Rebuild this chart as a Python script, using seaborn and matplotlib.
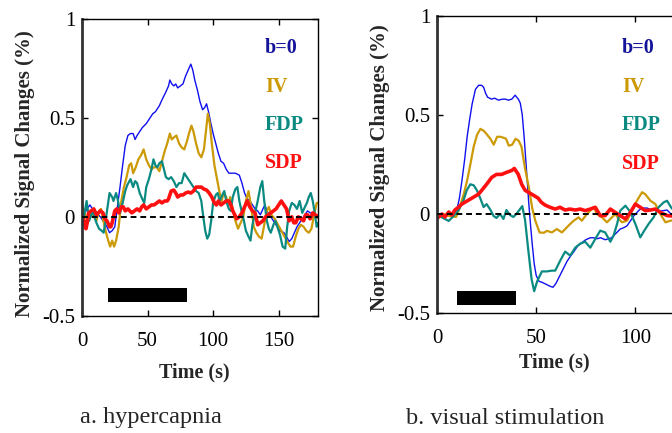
import matplotlib
matplotlib.use("Agg")
import matplotlib.pyplot as plt
import seaborn as sns

sns.set_style("ticks")
plt.rcParams["font.family"] = ["Liberation Serif", "DejaVu Serif"]

# ---------------- data: (a) hypercapnia ----------------
blue_a_t = [0, 3, 6, 8, 11, 14, 16, 19, 21, 23, 25, 27, 29, 31, 33, 35, 37, 39, 40.5, 42,
            44, 46, 49, 51, 54, 56, 59, 61, 64, 66, 67, 68.5, 70, 71.5, 73, 75, 77, 79, 81, 83,
            84.5, 86, 88, 90, 92, 93.5, 95, 96.5, 98, 100, 102, 104, 106, 108, 110, 112, 115,
            117, 120, 122, 124, 126, 128, 130, 132, 134, 136, 138, 139.5, 141, 143, 145, 148,
            151, 154, 156, 158, 160, 162, 164, 166, 168, 170, 172, 174, 176, 178, 180]
blue_a_v = [0.0, 0.03, 0.06, 0.04, 0.02, 0.0, -0.02, -0.05, -0.08, -0.07, -0.05, 0.05, 0.15,
            0.26, 0.36, 0.41, 0.42, 0.42, 0.39, 0.41, 0.43, 0.45, 0.47, 0.49, 0.52, 0.53, 0.56,
            0.59, 0.63, 0.66, 0.69, 0.67, 0.66, 0.67, 0.65, 0.66, 0.67, 0.71, 0.74, 0.77, 0.74,
            0.69, 0.64, 0.58, 0.54, 0.55, 0.57, 0.53, 0.48, 0.42, 0.37, 0.32, 0.28, 0.27, 0.24,
            0.22, 0.22, 0.22, 0.21, 0.17, 0.12, 0.09, 0.08, 0.06, 0.04, 0.03, 0.01, 0.04, 0.06,
            0.03, 0.01, -0.01, -0.04, -0.07, -0.08, -0.10, -0.125, -0.11, -0.08, -0.05, -0.03,
            -0.01, 0.01, 0.03, 0.02, 0.02, 0.01, 0.0]

gold_a_t = [0, 2, 4, 7, 9, 11, 13, 14.5, 16, 18, 20, 21.5, 23, 24.5, 26, 28, 30, 32, 34, 36,
            37.5, 39, 41, 43, 45, 47, 49, 51, 53, 55, 57, 59, 61, 63, 65, 67, 68.5, 70, 72, 74,
            76, 78, 80, 82, 83.5, 85, 87, 89, 91, 93, 94.5, 96, 97.5, 99, 101, 103, 105, 106.5,
            108, 110, 111.5, 113, 115, 117, 119, 121, 123, 125, 127, 129, 131, 133, 135, 137,
            139, 141, 142.5, 144.5, 147, 149.5, 152, 154.5, 157, 159, 161, 163, 165, 167, 169,
            171, 173, 175, 177, 179, 180]
gold_a_v = [0.06, 0.02, -0.02, 0.02, 0.0, -0.02, 0.03, 0.04, -0.01, -0.07, -0.12, -0.15,
            -0.12, -0.15, -0.12, -0.05, 0.08, 0.15, 0.20, 0.26, 0.27, 0.22, 0.25, 0.29, 0.31,
            0.34, 0.29, 0.26, 0.24, 0.25, 0.25, 0.23, 0.28, 0.33, 0.37, 0.42, 0.39, 0.40, 0.41,
            0.37, 0.35, 0.34, 0.38, 0.43, 0.46, 0.43, 0.37, 0.32, 0.30, 0.34, 0.43, 0.52, 0.47,
            0.37, 0.26, 0.19, 0.12, 0.08, 0.12, 0.10, 0.06, 0.10, 0.04, -0.02, -0.06, -0.03,
            0.0, 0.08, 0.13, 0.05, -0.05, -0.08, -0.10, -0.11, -0.04, 0.03, 0.05, 0.01, -0.01,
            -0.04, -0.07, -0.10, -0.13, -0.15, -0.15, -0.10, -0.06, -0.04, -0.05, -0.07, -0.08,
            -0.06, 0.01, 0.07, 0.07]

teal_a_t = [0, 2, 3.5, 5.5, 8, 11, 13, 15, 16.5, 18, 19.5, 21, 23, 24, 26, 27.5, 29, 31, 33,
            34.5, 37, 39, 40.5, 42, 44, 46, 47.5, 49, 51, 53, 54.5, 56, 57.5, 59, 61, 62.5, 64,
            66, 68, 70, 72, 74, 76, 78, 80, 82, 85, 87, 89, 91, 92.5, 94, 95.5, 97, 98.5, 100,
            102, 103.5, 105, 107, 108.5, 110, 112, 113.5, 115, 117, 118.5, 120, 122, 123.5, 125,
            127, 128.5, 130, 132, 134, 136, 137.5, 139, 141, 142.5, 144, 146, 147.5, 149, 151,
            153, 155, 156.5, 158, 160, 162, 164, 166, 168, 170, 171.5, 173, 174.5, 176, 177.5,
            179, 180]
teal_a_v = [-0.05, 0.02, 0.08, -0.02, 0.03, -0.03, -0.06, -0.07, -0.08, -0.02, 0.05, 0.12,
            0.10, 0.08, 0.12, 0.08, 0.02, 0.07, 0.13, 0.16, 0.19, 0.15, 0.18, 0.17, 0.12, 0.09,
            0.07, 0.15, 0.19, 0.24, 0.29, 0.26, 0.25, 0.27, 0.28, 0.24, 0.20, 0.19, 0.20, 0.18,
            0.15, 0.17, 0.17, 0.22, 0.20, 0.18, 0.15, 0.13, 0.12, 0.08, 0.0, -0.07, -0.11, -0.09,
            -0.02, 0.07, 0.11, 0.12, 0.08, 0.11, 0.13, 0.08, 0.04, 0.03, 0.10, 0.14, 0.15, 0.08,
            0.02, -0.02, -0.07, -0.10, -0.12, -0.04, 0.02, 0.08, 0.15, 0.18, 0.08, -0.02, -0.06,
            -0.08, -0.04, -0.02, -0.05, -0.09, -0.15, -0.16, -0.05, 0.03, 0.07, 0.06, 0.04, 0.08,
            0.02, 0.05, 0.07, 0.10, 0.12, 0.08, 0.02, -0.05, -0.03]

red_a_t = [0, 1.5, 3, 4, 5, 7, 9, 11, 12.5, 14, 16, 17.5, 19, 21, 22, 23, 25, 26.5, 28, 30,
           31.5, 33, 35, 36.5, 38, 40, 42, 44, 45.5, 47, 49, 51, 53, 55, 57, 59, 61, 63, 65, 66,
           68, 70, 71.5, 73, 75, 77, 79, 81, 83, 85, 87, 89, 91, 93, 95, 97, 99, 101, 102.5, 104,
           106, 108, 110, 112, 113.5, 115, 116.5, 118, 120, 122, 124, 126, 128, 130, 132, 134,
           136, 138, 140, 142, 144, 146, 148, 150, 152, 154, 156, 158, 160, 161.5, 163, 165,
           167, 169, 170.5, 172, 174, 176, 178, 180]
red_a_v = [0.0, -0.02, -0.06, -0.03, 0.02, 0.03, 0.04, 0.01, 0.02, 0.03, 0.02, -0.01, -0.02,
           -0.05, -0.05, -0.03, 0.03, 0.04, 0.02, 0.05, 0.05, 0.03, 0.04, 0.03, 0.02, 0.03, 0.04,
           0.03, 0.05, 0.06, 0.04, 0.05, 0.06, 0.06, 0.07, 0.08, 0.07, 0.08, 0.08, 0.09, 0.13,
           0.135, 0.12, 0.10, 0.11, 0.11, 0.12, 0.125, 0.12, 0.13, 0.15, 0.15, 0.15, 0.14, 0.135,
           0.12, 0.10, 0.07, 0.06, 0.08, 0.06, 0.07, 0.08, 0.08, 0.06, 0.03, 0.01, -0.01, 0.0,
           0.02, 0.05, 0.08, 0.05, 0.03, 0.02, -0.04, -0.03, -0.02, 0.0, 0.01, 0.02, 0.03, 0.04,
           0.06, 0.08, 0.06, 0.04, -0.02, 0.0, -0.03, -0.03, 0.0, -0.01, -0.02, 0.01, 0.01,
           -0.01, 0.02, 0.01, 0.0]

block_a = [20, 80]

# ---------------- data: (b) visual stimulation ----------------
blue_b_t = [0, 2, 4.5, 7, 10, 11.3, 12.6, 14, 15.2, 16.5, 17.7, 19.4, 21, 22.5, 23.5, 24.5,
            25.5, 27.5, 29, 31, 33, 34.5, 36, 37.7, 39.4, 41, 42, 43, 44, 45, 46.3, 47.2, 48,
            49, 50, 51.4, 53, 55, 57, 58.5, 60, 61.5, 63.5, 65.5, 67.5, 69, 71, 73, 75, 77.3,
            79, 80.6, 82.5, 84.8, 86.5, 88, 90, 92.4, 94, 95.8, 97.5, 99.2, 101, 102.5, 104,
            106, 108, 111, 113, 116, 118, 120]
blue_b_v = [0.0, -0.01, -0.01, 0.0, 0.02, 0.08, 0.17, 0.28, 0.39, 0.48, 0.555, 0.63, 0.65,
            0.65, 0.64, 0.61, 0.59, 0.58, 0.585, 0.575, 0.58, 0.58, 0.575, 0.58, 0.60, 0.58,
            0.56, 0.50, 0.38, 0.24, 0.05, -0.06, -0.15, -0.25, -0.31, -0.34, -0.345, -0.355,
            -0.365, -0.37, -0.35, -0.32, -0.28, -0.24, -0.21, -0.19, -0.16, -0.145, -0.13, -0.12,
            -0.12, -0.125, -0.12, -0.13, -0.125, -0.12, -0.10, -0.076, -0.07, -0.06, -0.035,
            -0.01, 0.01, 0.025, 0.03, 0.03, 0.02, 0.02, 0.015, 0.02, 0.0, -0.01]

gold_b_t = [0, 3, 6, 9.6, 11, 13.5, 15.2, 16.8, 18.5, 20.2, 21.9, 23.6, 25.3, 26.9, 28.6, 30.3,
            32, 33.6, 34.8, 36.2, 37.9, 39.6, 41.2, 42.6, 44.3, 46.3, 48, 49.6, 51.7, 53.9, 55.4,
            57.9, 60.4, 63, 65.5, 67.2, 68.9, 71.4, 73, 75.6, 77.3, 79, 80.6, 83.2, 85.7, 87.4,
            89.9, 91.6, 93.3, 95.8, 98.3, 100.8, 103.4, 105, 107.6, 110.1, 112.6, 115.2, 117.7,
            120]
gold_b_v = [-0.02, 0.0, -0.01, -0.015, 0.02, 0.10, 0.17, 0.25, 0.34, 0.40, 0.43, 0.42, 0.40,
            0.38, 0.35, 0.39, 0.39, 0.385, 0.38, 0.345, 0.35, 0.38, 0.37, 0.34, 0.235, 0.135,
            0.03, -0.035, -0.093, -0.095, -0.085, -0.093, -0.076, -0.093, -0.067, -0.05, -0.034,
            -0.017, -0.034, 0.0, 0.017, 0.034, 0.0, -0.017, -0.042, -0.025, 0.0, -0.025, -0.042,
            -0.034, 0.017, 0.067, 0.11, 0.10, 0.067, 0.05, 0.0, -0.042, -0.034, -0.03]

teal_b_t = [0, 3, 5.9, 8.4, 10.9, 13.4, 15, 16.8, 18.5, 20.1, 21.8, 23.5, 25, 27, 28.5, 30,
            31.8, 33.5, 35, 36.8, 38.5, 40, 41.9, 43, 44.4, 46, 47.7, 49, 50.5, 52.9, 55.4, 57.9,
            59.6, 62.1, 64.6, 67.2, 69.7, 72.2, 74.7, 77.3, 79.8, 82.3, 84.8, 87.4, 89, 90.8,
            92.4, 95, 97.5, 100, 102.5, 104.5, 106.7, 109.2, 111.7, 114.3, 116, 118, 120]
teal_b_v = [0.0, -0.02, -0.035, -0.01, 0.02, 0.07, 0.12, 0.15, 0.145, 0.12, 0.08, 0.035, 0.05,
            0.02, -0.01, -0.02, 0.0, -0.025, 0.02, -0.005, -0.015, 0.0, 0.025, 0.04, -0.03,
            -0.18, -0.33, -0.39, -0.34, -0.29, -0.29, -0.286, -0.286, -0.236, -0.19, -0.21,
            -0.17, -0.15, -0.14, -0.17, -0.126, -0.084, -0.093, -0.14, -0.11, -0.05, 0.017,
            0.042, 0.01, -0.05, -0.118, -0.084, -0.05, -0.017, 0.034, 0.059, 0.067, 0.034, 0.01]

red_b_t = [0, 1, 2.5, 4, 5.9, 7.5, 9, 10.9, 12.5, 14.2, 15.9, 18.4, 20.9, 22.6, 25, 27.6, 30,
           32.6, 35, 37.7, 39, 41, 42.7, 44.4, 46, 48.6, 51, 52.5, 54.5, 57, 59.6, 62, 64.6, 67,
           69.7, 72.2, 74.7, 77.3, 79.8, 82.3, 84.8, 87.4, 89.9, 92.4, 95, 97.5, 100, 102.5,
           105, 107.6, 110, 112.6, 116, 118.5, 120]
red_b_v = [-0.02, -0.015, 0.0, -0.015, 0.01, -0.005, 0.02, 0.035, 0.05, 0.06, 0.07, 0.085,
           0.10, 0.12, 0.15, 0.185, 0.20, 0.20, 0.21, 0.22, 0.23, 0.20, 0.15, 0.12, 0.11, 0.095,
           0.08, 0.06, 0.045, 0.034, 0.025, 0.034, 0.02, 0.025, 0.02, 0.025, 0.017, 0.025,
           0.034, -0.008, -0.008, 0.025, 0.008, -0.008, -0.025, 0.008, 0.05, 0.034, 0.017, 0.02,
           0.025, 0.008, -0.008, -0.01, -0.01]

block_b = [10, 40]

labels = ["b=0", "IV", "FDP", "SDP"]
line_colors = ["#1010ee", "#cc9a06", "#0b8a82", "#ff1010"]
text_colors = ["#14149a", "#cc9a06", "#0b8a82", "#ff1010"]
widths = [1.0, 1.6, 1.6, 2.6]

fig = plt.figure(figsize=(6.72, 4.33), dpi=100)
ax_a = fig.add_axes([82 / 672, (433 - 316) / 433, 236 / 672, 297.5 / 433])
ax_b = fig.add_axes([437 / 672, (433 - 313) / 433, 357 / 672, 297 / 433])

panels = [
    (ax_a, [(blue_a_t, blue_a_v), (gold_a_t, gold_a_v), (teal_a_t, teal_a_v), (red_a_t, red_a_v)],
     block_a, (-0.43, -0.36), 139.5, [0.85, 0.655, 0.463, 0.273]),
    (ax_b, [(blue_b_t, blue_b_v), (gold_b_t, gold_b_v), (teal_b_t, teal_b_v), (red_b_t, red_b_v)],
     block_b, (-0.46, -0.39), 93.3, [0.837, 0.64, 0.447, 0.255]),
]

for ax, series, block, bar_y, text_x, text_y in panels:
    for (t, v), c, lw in zip(series, line_colors, widths):
        sns.lineplot(x=t, y=v, ax=ax, color=c, linewidth=lw, sort=False, estimator=None)
    ax.axhline(0, color="black", ls=(0, (3, 2)), lw=1.4, zorder=5)
    ax.fill_between(block, bar_y[0], bar_y[1], color="black", lw=0)
    for lab, col, y in zip(labels, text_colors, text_y):
        ax.text(text_x, y, lab, color=col, fontsize=14.5, fontweight="bold",
                ha="left", va="center")
    ax.set_xlim(0, 180)
    ax.set_ylim(-0.5, 1)
    ax.set_xticks([0, 50, 100, 150])
    ax.set_yticks([-0.5, 0, 0.5, 1])
    ax.set_yticklabels(["-0.5", "0", "0.5", "1"])
    ax.tick_params(direction="in", top=True, right=True, length=4, width=1,
                   labelsize=15, colors="black")
    ax.tick_params(axis="x", pad=11.5)
    ax.tick_params(axis="y", pad=5)
    for side in ["top", "right", "bottom"]:
        ax.spines[side].set_linewidth(1.0)
        ax.spines[side].set_color("black")
    ax.spines["left"].set_linewidth(2.0)
    ax.spines["left"].set_color("#333333")
    ax.set_xlabel("Time (s)", fontsize=14.5, fontweight="bold")
    ax.set_ylabel("Normalized Signal Changes (%)", fontsize=15, fontweight="bold")
    ax.xaxis.label.set_verticalalignment("center")
    ax.yaxis.label.set_verticalalignment("center")

# panel b runs past the right edge of the page; its 150 label falls outside
ax_b.set_xticklabels(["0", "50", "100", ""])

ax_a.xaxis.set_label_coords(0.475, -0.19)
ax_a.yaxis.set_label_coords(-0.2415, 0.48)
ax_b.xaxis.set_label_coords(0.329, -0.168)
ax_b.yaxis.set_label_coords(-0.161, 0.49)

fig.text(150.5 / 672, 1 - 418 / 433, "a. hypercapnia", fontsize=17.5, ha="center", va="center")
fig.text(505 / 672, 1 - 418 / 433, "b. visual stimulation", fontsize=17.5, ha="center", va="center")

fig.savefig("out.png", dpi=100)
